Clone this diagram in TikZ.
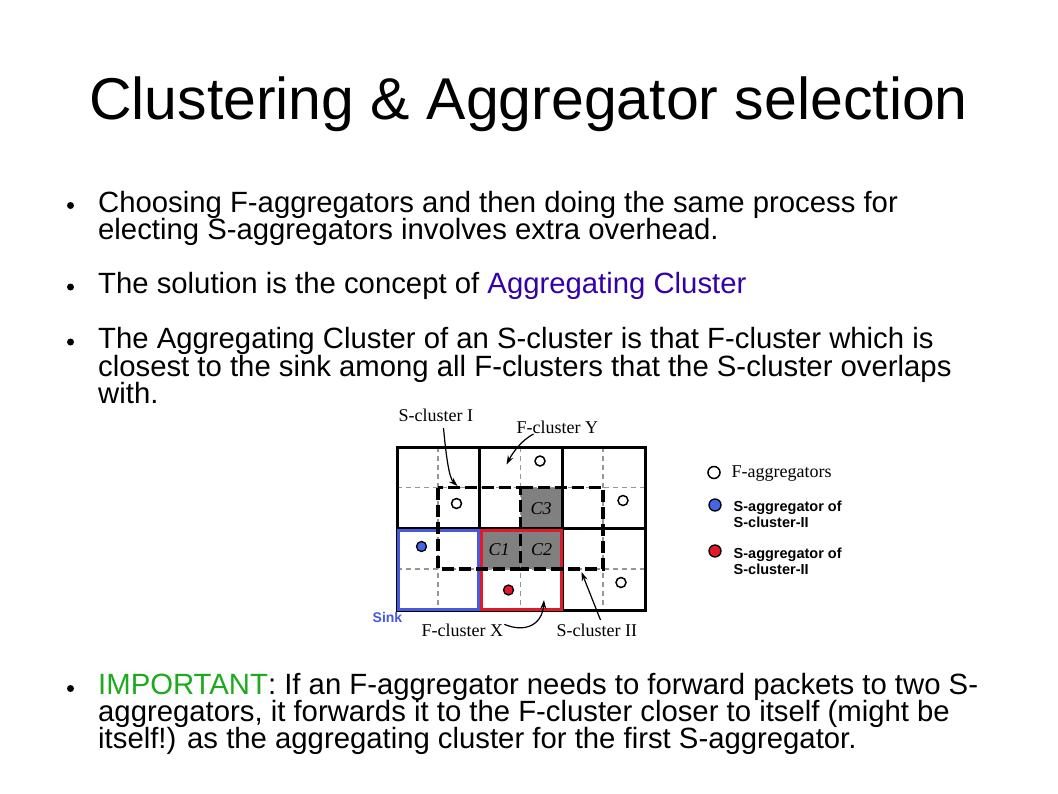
\documentclass[tikz,border=0pt]{standalone}
\usepackage{fontspec}
\setmainfont{Liberation Sans}
\newfontfamily\seriffont{Liberation Serif}
\usetikzlibrary{arrows.meta}
\definecolor{aggr}{RGB}{51,0,170}
\definecolor{imp}{RGB}{30,170,30}
\definecolor{sinkblue}{RGB}{70,90,220}
\definecolor{cellgray}{RGB}{128,128,128}
\definecolor{gridgray}{RGB}{150,150,150}
\definecolor{sblue}{RGB}{70,100,230}
\definecolor{sred}{RGB}{225,25,40}
\begin{document}
\begin{tikzpicture}[x=1pt,y=-1pt,
  body/.style={anchor=base west, inner sep=0, font=\fontsize{29.3}{33}\selectfont},
  titletext/.style={anchor=base, inner sep=0, font=\fontsize{59}{66}\selectfont},
  bulletdot/.style={circle, fill=black, inner sep=0, minimum size=7pt},
  lbl/.style={anchor=base west, inner sep=0, font=\seriffont\fontsize{18}{20}\selectfont},
  cell/.style={inner sep=0, font=\seriffont\itshape\fontsize{18}{20}\selectfont},
  legbold/.style={anchor=base west, inner sep=0, font=\bfseries\fontsize{14.5}{15.8}\selectfont},
  solidgrid/.style={line width=3pt, black},
  thingrid/.style={line width=1.1pt, gridgray, dash pattern=on 5pt off 4pt},
  scluster/.style={line width=3.2pt, black, dash pattern=on 12pt off 5pt},
  fagg/.style={circle, draw=black, line width=1.5pt, fill=white, inner sep=0, minimum size=10pt},
  sagg/.style={circle, draw=black, line width=1.3pt, inner sep=0, minimum size=10pt},
  pointer/.style={-{Stealth[length=9pt,width=6pt]}, line width=1.2pt, black},
]
\useasboundingbox[fill=white] (0,0) rectangle (1058,793);

% title
\node[titletext] (title) at (528.5,119.5) {Clustering \& Aggregator selection};

% bullets
\node[bulletdot] (b1) at (70.5,205.5) {};
\node[body] (t1a) at (98,212) {Choosing F-aggregators and then doing the same process for};
\node[body] (t1b) at (98,239.3) {electing S-aggregators involves extra overhead.};
\node[bulletdot] (b2) at (70.5,287) {};
\node[body] (t2) at (98,293.3) {The solution is the concept of \textcolor{aggr}{Aggregating Cluster}};
\node[bulletdot] (b3) at (70.5,342) {};
\node[body] (t3a) at (98,348.3) {The Aggregating Cluster of an S-cluster is that F-cluster which is};
\node[body] (t3b) at (98,376) {closest to the sink among all F-clusters that the S-cluster overlaps};
\node[body] (t3c) at (98,403.3) {with.};
\node[bulletdot] (b4) at (70.5,688.5) {};
\node[body] (t4a) at (98,694) {\textcolor{imp}{IMPORTANT}: If an F-aggregator needs to forward packets to two S-};
\node[body] (t4b) at (98,721.3) {aggregators, it forwards it to the F-cluster closer to itself (might be};
\node[body] (t4c) at (98,748.5) {itself!) as the aggregating cluster for the first S-aggregator.};

% grid
\fill[cellgray] (520.5,487.5) rectangle (562,528.5);
\fill[cellgray] (479,528.5) rectangle (562,569);
\draw[thingrid] (438,447) -- (438,610);
\draw[thingrid] (520.5,447) -- (520.5,610);
\draw[thingrid] (603,447) -- (603,610);
\draw[thingrid] (397,487.5) -- (645,487.5);
\draw[thingrid] (397,569) -- (645,569);
\draw[solidgrid] (397,447) rectangle (645,610);
\draw[solidgrid] (479.5,447) -- (479.5,610);
\draw[solidgrid] (562,447) -- (562,610);
\draw[solidgrid] (397,528.5) -- (645,528.5);
\draw[line width=3pt, sinkblue] (398,530) rectangle (478,609);
\draw[line width=3pt, sred] (481,530) rectangle (561,609);
\draw[scluster] (438,487.5) rectangle (520.5,569);
\draw[scluster] (520.5,487.5) -- (603,487.5) -- (603,569) -- (520.5,569);

\node[cell] (c3) at (541,508.5) {C3};
\node[cell] (c1) at (499,550) {C1};
\node[cell] (c2) at (541.5,550) {C2};

% aggregators
\node[fagg] (fa1) at (540,461) {};
\node[fagg] (fa2) at (456.5,503.5) {};
\node[fagg] (fa3) at (623,500.5) {};
\node[fagg] (fa4) at (621,582.5) {};
\node[sagg, fill=sblue] (sa1) at (421.5,546.5) {};
\node[sagg, fill=sred] (sa2) at (508.5,590) {};

% labels
\node[lbl] (ls1) at (398.5,421.5) {S-cluster I};
\node[lbl] (lfy) at (516.5,433.5) {F-cluster Y};
\node[anchor=base west, inner sep=0, text=sinkblue, font=\bfseries\fontsize{14}{16}\selectfont] (lsink) at (372.5,622.5) {Sink};
\node[lbl] (lfx) at (421.5,636.5) {F-cluster X};
\node[lbl] (ls2) at (556.5,636.5) {S-cluster II};

\coordinate (ps1) at (457.5,486);
\coordinate (pfy) at (506.5,464.5);
\coordinate (pfx) at (544,600);
\coordinate (ps2) at (581.5,572);
\draw[pointer] (443.5,428) .. controls (446,455) and (449,478) .. (ps1);
\draw[pointer] (533.5,434) .. controls (522,440) and (513,452) .. (pfy);
\draw[pointer] (lfx.east) ++(1,-6) .. controls (525,633) and (542,625) .. (pfx);
\draw[pointer] (600.5,620) -- (ps2);

% legend
\node[fagg, minimum size=12pt] (lg1) at (714,472.5) {};
\node[lbl] (lgt1) at (731.5,477.5) {F-aggregators};
\node[sagg, minimum size=12pt, fill=sblue] (lg2) at (715,505) {};
\node[legbold] (lgt2a) at (733.5,511.7) {S-aggregator of};
\node[legbold] (lgt2b) at (733.5,527.5) {S-cluster-II};
\node[sagg, minimum size=12pt, fill=sred] (lg3) at (715,551) {};
\node[legbold] (lgt3a) at (733.5,558.3) {S-aggregator of};
\node[legbold] (lgt3b) at (733.5,574.2) {S-cluster-II};
\end{tikzpicture}
\end{document}
